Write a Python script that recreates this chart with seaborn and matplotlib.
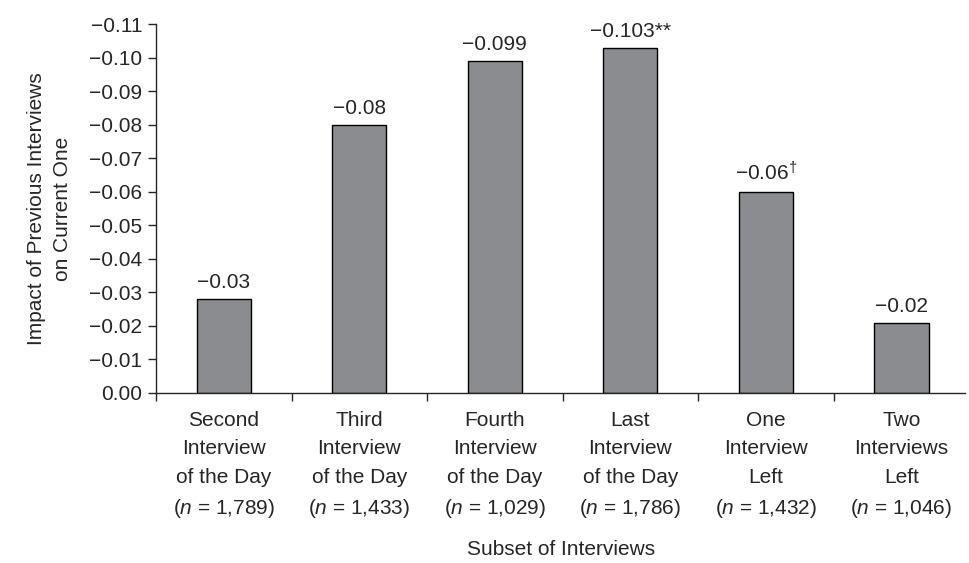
import matplotlib
matplotlib.use("Agg")
import matplotlib.pyplot as plt
import seaborn as sns
import pandas as pd

# --- DATA ---
categories = [
    "Second\nInterview\nof the Day\n($\\mathit{n}$ = 1,789)",
    "Third\nInterview\nof the Day\n($\\mathit{n}$ = 1,433)",
    "Fourth\nInterview\nof the Day\n($\\mathit{n}$ = 1,029)",
    "Last\nInterview\nof the Day\n($\\mathit{n}$ = 1,786)",
    "One\nInterview\nLeft\n($\\mathit{n}$ = 1,432)",
    "Two\nInterviews\nLeft\n($\\mathit{n}$ = 1,046)",
]
impact = [-0.028, -0.080, -0.099, -0.103, -0.060, -0.021]
bar_labels = ["\u22120.03", "\u22120.08", "\u22120.099", "\u22120.103**",
              "\u22120.06$^{\\dagger}$", "\u22120.02"]
y_ticks = [0.00, -0.01, -0.02, -0.03, -0.04, -0.05, -0.06, -0.07, -0.08, -0.09, -0.10, -0.11]
y_tick_labels = ["0.00", "\u22120.01", "\u22120.02", "\u22120.03", "\u22120.04", "\u22120.05",
                 "\u22120.06", "\u22120.07", "\u22120.08", "\u22120.09", "\u22120.10", "\u22120.11"]

sns.set_style("ticks")
plt.rcParams['font.family'] = ['Liberation Sans Narrow', 'Liberation Sans', 'DejaVu Sans']
plt.rcParams['mathtext.fontset'] = 'custom'
plt.rcParams['mathtext.rm'] = 'Liberation Sans'
plt.rcParams['mathtext.it'] = 'Liberation Sans:italic'
plt.rcParams['mathtext.sf'] = 'Liberation Sans'

FS = 15

df = pd.DataFrame({"cat": categories, "val": impact})

fig = plt.figure(figsize=(9.69, 5.63), dpi=100)
ax = fig.add_axes([0.161, 0.302, 0.835, 0.655])

sns.barplot(data=df, x="cat", y="val", color="#8b8c90", saturation=1,
            edgecolor="black", linewidth=1.0, width=0.4, ax=ax)

# value labels above bars (axis is inverted, so place them in screen space)
for i, (v, lab) in enumerate(zip(impact, bar_labels)):
    ax.annotate(lab, (i, v), xytext=(0, 5), textcoords="offset points",
                ha="center", va="bottom", fontsize=FS)

ax.set_ylim(0, -0.11)
ax.set_xlim(-0.5, 5.47)
ax.set_yticks(y_ticks)
ax.set_yticklabels(y_tick_labels, fontsize=FS)

# ticks between categories on the x axis
ax.set_xticks([i - 0.5 for i in range(6)], minor=False)
ax.set_xticklabels([])
ax.set_xticks(range(6), minor=True)
ax.set_xticklabels(categories, minor=True, fontsize=FS, linespacing=1.62, va="top")
ax.tick_params(axis="x", which="minor", length=0, pad=13)
ax.tick_params(axis="x", which="major", length=6, width=1, direction="out")
ax.tick_params(axis="y", length=6, width=1, direction="out", pad=4)

ax.set_xlabel("Subset of Interviews", fontsize=FS, labelpad=14)
ax.set_ylabel("Impact of Previous Interviews\non Current One", fontsize=FS,
              labelpad=12, linespacing=1.5)

for side in ["top", "right"]:
    ax.spines[side].set_visible(False)
ax.spines["left"].set_linewidth(1)
ax.spines["bottom"].set_linewidth(1)

fig.savefig("out.png", dpi=100)
